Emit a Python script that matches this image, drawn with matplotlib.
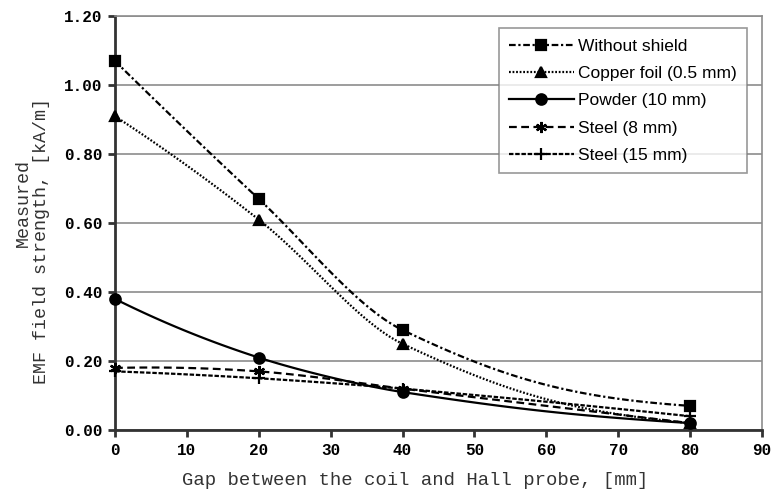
import matplotlib

matplotlib.use("Agg")
import matplotlib.pyplot as plt
import numpy as np

# Gap between coil and Hall probe (mm)
gap_mm = [0, 20, 40, 80]

# Measured EMF field strength (kA/m)
without_shield = [1.07, 0.67, 0.29, 0.07]
copper_foil = [0.91, 0.61, 0.25, 0.02]
powder = [0.38, 0.21, 0.11, 0.02]
steel_8 = [0.18, 0.17, 0.12, 0.02]
steel_15 = [0.17, 0.15, 0.12, 0.04]

labels = ["Without shield", "Copper foil (0.5 mm)", "Powder (10 mm)",
          "Steel (8 mm)", "Steel (15 mm)"]

x_ticks = list(range(0, 91, 10))
y_ticks = [0.0, 0.2, 0.4, 0.6, 0.8, 1.0, 1.2]

# rough pixel aspect of the plot area, so the smoothing behaves like the
# spreadsheet one (it works on screen coordinates)
SX, SY = 646 / 90, 414 / 1.2


def _reflect(d, u):
    u = u / np.linalg.norm(u)
    return 2 * np.dot(d, u) * u - d


def smooth(xs, ys, n=40):
    """Smoothed line: cubic Bezier through the points, mirrored end tangents.

    Control arm on each side of a point is scaled by that side's segment
    length, so uneven spacing (20 mm vs 40 mm) doesn't kink the curve.
    """
    p = np.column_stack([np.asarray(xs) * SX, np.asarray(ys) * SY]).astype(float)
    m = len(p)
    seglen = np.linalg.norm(np.diff(p, axis=0), axis=1)
    arm_in = [None] * m   # vector from point back to incoming control
    arm_out = [None] * m  # vector from point to outgoing control
    for i in range(1, m - 1):
        d = p[i + 1] - p[i - 1]
        u = d / np.linalg.norm(d)
        mag = np.linalg.norm(d) / 6
        tot = seglen[i - 1] + seglen[i]
        arm_in[i] = -u * mag * (2 * seglen[i - 1] / tot) ** 2
        arm_out[i] = u * min(mag * (2 * seglen[i] / tot) ** 2, seglen[i] / 2.5)
    t = np.linspace(0, 1, n)[:, None]
    out = []
    for i in range(m - 1):
        p0, p3 = p[i], p[i + 1]
        chord = p3 - p0
        if arm_out[i] is not None:
            c1 = p0 + arm_out[i]
        else:
            c1 = p0 + _reflect(-arm_in[i + 1], chord)
        if arm_in[i + 1] is not None:
            c2 = p3 + arm_in[i + 1]
        else:
            c2 = p3 - _reflect(arm_out[i], chord)
        seg = ((1 - t) ** 3) * p0 + 3 * ((1 - t) ** 2) * t * c1 \
            + 3 * (1 - t) * t ** 2 * c2 + t ** 3 * p3
        out.append(seg if i == 0 else seg[1:])
    seg = np.vstack(out)
    return seg[:, 0] / SX, seg[:, 1] / SY


series = [without_shield, copper_foil, powder, steel_8, steel_15]
styles = [
    dict(ls=(0, (3, 1.2, 1, 1.2)), marker="s", ms=7.5),
    dict(ls=(0, (0.8, 0.8)), marker="^", ms=7.5),
    dict(ls="-", marker="o", ms=7.5),
    dict(ls=(0, (3.5, 2)), marker=(6, 2, 0), ms=8),
    dict(ls=(0, (2, 0.8)), marker="+", ms=8),
]

fig = plt.figure(figsize=(7.72, 4.92), dpi=100)
ax = fig.add_axes([0.149, 0.126, 0.838, 0.841])

mono = "Liberation Mono"
axis_col = "#333333"

for vals, st, lab in zip(series, styles, labels):
    sx, sy = smooth(gap_mm, vals)
    ax.plot(sx, sy, color="black", lw=1.6, ls=st["ls"], clip_on=False)
    ax.plot(gap_mm, vals, ls="none", marker=st["marker"], ms=st["ms"],
            color="black", mew=1.6, clip_on=False, zorder=4)
    ax.plot([], [], color="black", lw=1.6, ls=st["ls"], marker=st["marker"],
            ms=st["ms"], mew=1.6, label=lab)

ax.set_xlim(0, 90)
ax.set_ylim(0, 1.2)
ax.set_xticks(x_ticks)
ax.set_yticks(y_ticks)
ax.set_xticklabels([str(v) for v in x_ticks], fontfamily=mono,
                   fontweight="bold", fontsize=11.5)
ax.set_yticklabels([f"{v:.2f}" for v in y_ticks], fontfamily=mono,
                   fontweight="bold", fontsize=11.5)

ax.yaxis.grid(True, color="#8c8c8c", lw=1.2)
ax.set_axisbelow(True)
for side in ("top", "right"):
    ax.spines[side].set_color("#8c8c8c")
    ax.spines[side].set_linewidth(1.2)
for side in ("left", "bottom"):
    ax.spines[side].set_color(axis_col)
    ax.spines[side].set_linewidth(2)
ax.tick_params(direction="out", length=5, width=2, color=axis_col, pad=4)

fig.text(0.5375, 0.0224, "Gap between the coil and Hall probe, [mm]",
         fontfamily=mono, fontsize=13.6, color="#333333", ha="center",
         va="center")
fig.text(0.030, 0.587, "Measured", fontfamily=mono, fontsize=13.2,
         color="#333333", rotation=90, ha="center", va="center")
fig.text(0.054, 0.510, "EMF field strength, [kA/m]", fontfamily=mono,
         fontsize=13.2, color="#333333", rotation=90, ha="center",
         va="center")

leg = ax.legend(loc="upper right", bbox_to_anchor=(0.977, 0.971),
                borderaxespad=0,
                prop={"family": "Liberation Sans", "size": 12.5},
                handlelength=3.7, handletextpad=0.25, labelspacing=0.7,
                borderpad=0.6, fancybox=False, frameon=True)
leg.get_frame().set_edgecolor("#7f7f7f")
leg.get_frame().set_linewidth(1.2)

fig.savefig("out.png", dpi=100)
